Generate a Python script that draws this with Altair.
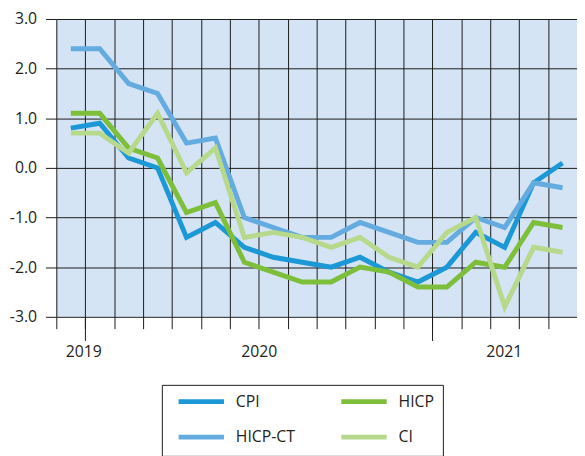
import altair as alt
import pandas as pd

# Months: Dec 2019 .. May 2021 (index 0..17), plotted at month centres
month_index = list(range(18))
cpi = [0.8, 0.9, 0.2, 0.0, -1.4, -1.1, -1.6, -1.8, -1.9, -2.0, -1.8, -2.1, -2.3, -2.0, -1.3, -1.6, -0.3, 0.1]
hicp_ct = [2.4, 2.4, 1.7, 1.5, 0.5, 0.6, -1.0, -1.2, -1.4, -1.4, -1.1, -1.3, -1.5, -1.5, -1.0, -1.2, -0.3, -0.4]
hicp = [1.1, 1.1, 0.4, 0.2, -0.9, -0.7, -1.9, -2.1, -2.3, -2.3, -2.0, -2.1, -2.4, -2.4, -1.9, -2.0, -1.1, -1.2]
ci = [0.7, 0.7, 0.3, 1.1, -0.1, 0.4, -1.4, -1.3, -1.4, -1.6, -1.4, -1.8, -2.0, -1.3, -1.0, -2.8, -1.6, -1.7]

series_names = ["CPI", "HICP-CT", "HICP", "CI"]
series_values = [cpi, hicp_ct, hicp, ci]
legend_order = ["CPI", "HICP", "HICP-CT", "CI"]
colors = {"CPI": "#1b98d5", "HICP": "#7dbf3b", "HICP-CT": "#64abdf", "CI": "#b7d98b"}

year_labels = ["2019", "2020", "2021"]
year_label_pos = [0.93, 7.0, 15.47]
year_boundaries = [1, 13]
y_ticks = [-3, -2, -1, 0, 1, 2, 3]

rows = []
for name, vals in zip(series_names, series_values):
    for i, v in zip(month_index, vals):
        rows.append({"series": name, "pos": i + 0.5, "value": v})
df = pd.DataFrame(rows)

FONT = "Open Sans"
TXT = "#231f20"
x_scale = alt.Scale(domain=[0, 18], nice=False, zero=False)
y_scale = alt.Scale(domain=[-3, 3], nice=False)

lines = alt.Chart(df).mark_line(strokeWidth=5, strokeJoin="miter", strokeCap="butt").encode(
    x=alt.X("pos:Q", scale=x_scale,
            axis=alt.Axis(orient="bottom", values=list(range(18)), grid=True, gridColor="#1a1a1a",
                          gridWidth=1, gridOpacity=1, tickSize=12, tickColor="#1a1a1a", tickWidth=1,
                          labels=False, domain=False, title=None)),
    y=alt.Y("value:Q", scale=y_scale,
            axis=alt.Axis(values=y_ticks, grid=True, gridColor="#1a1a1a", gridWidth=1, gridOpacity=1,
                          tickSize=11, tickColor="#1a1a1a", tickWidth=1, domain=False, title=None,
                          labelExpr="(datum.value < 0 ? '-' : '') + format(abs(datum.value), '.1f')",
                          labelFont=FONT, labelFontSize=16, labelColor=TXT, labelPadding=9)),
    color=alt.Color("series:N", scale=alt.Scale(domain=legend_order, range=[colors[s] for s in legend_order]),
                    legend=alt.Legend(orient="none", legendX=107, legendY=371, direction="horizontal",
                                      columns=2, title=None, symbolType="M0,0H18.4", symbolStrokeWidth=5,
                                      symbolSize=25, labelFont=FONT, labelFontSize=16, labelColor=TXT,
                                      strokeColor="#1a1a1a", padding=9, rowPadding=16, columnPadding=36,
                                      labelOffset=50,
                                      labelExpr="(datum.label == 'HICP' || datum.label == 'CI') ? datum.label + '\u00a0\u00a0\u00a0' : datum.label")),
)

year_ticks = alt.Chart(df).mark_point(opacity=0).encode(
    x=alt.X("pos:Q", scale=x_scale,
            axis=alt.Axis(orient="bottom", values=year_boundaries, grid=False, tickSize=24,
                          tickColor="#1a1a1a", tickWidth=1, labels=False, domain=False, title=None)),
    y=alt.Y("value:Q", scale=y_scale, axis=None),
)

year_text = alt.Chart(df).mark_point(opacity=0).encode(
    x=alt.X("pos:Q", scale=x_scale,
            axis=alt.Axis(orient="bottom", values=year_label_pos, grid=False, ticks=False,
                          domain=False, title=None, labelPadding=27, labelFont=FONT, labelFontSize=16,
                          labelColor=TXT,
                          labelExpr="datum.value < 3 ? '" + year_labels[0] + "' : datum.value < 10 ? '"
                                    + year_labels[1] + "' : '" + year_labels[2] + "'")),
    y=alt.Y("value:Q", scale=y_scale, axis=None),
)

chart = alt.layer(lines, year_ticks, year_text).resolve_scale(x="independent", y="independent").resolve_axis(
    x="independent", y="independent"
).properties(
    width=528, height=302,
    padding={"left": 49, "top": 8, "right": 0, "bottom": 138},
    autosize=alt.AutoSizeParams(type="none"),
).configure(font=FONT).configure_view(fill="#d4e4f5", stroke=None)

chart.save("out.html", embed_options={"renderer": "svg", "actions": False})
